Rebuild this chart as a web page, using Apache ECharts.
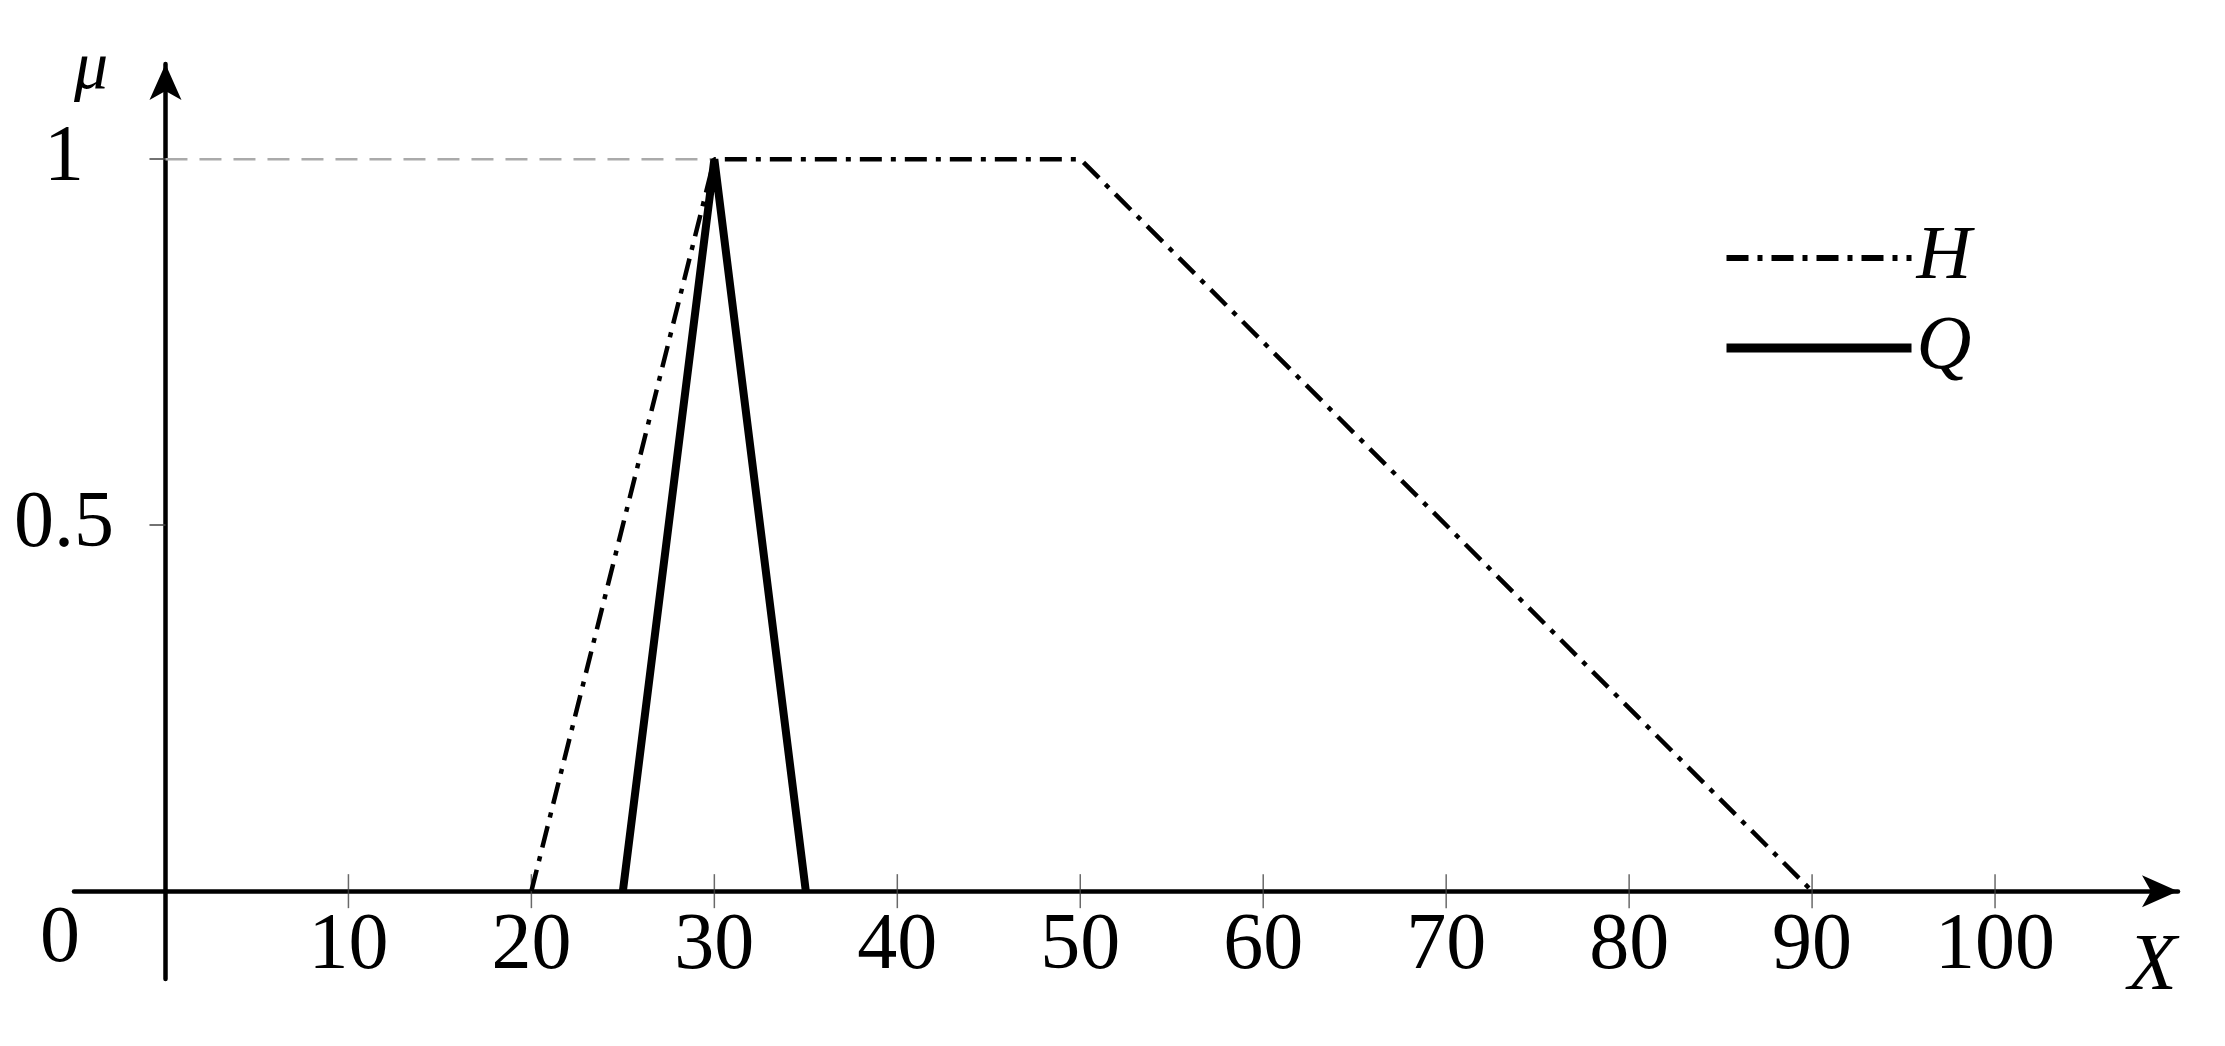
<!DOCTYPE html>
<html>
<head>
<meta charset="utf-8">
<script src="https://cdn.jsdelivr.net/npm/echarts@6/dist/echarts.min.js"></script>
<style>html,body{margin:0;padding:0;background:#fff}#chart{width:2225px;height:1046px}</style>
</head>
<body>
<div id="chart"></div>
<script>
// datos de las funciones de pertenencia
const puntosH = [[20, 0], [30, 1], [50, 1], [90, 0]];
const puntosQ = [[25, 0], [30, 1], [35, 0]];
const guiaUno = [[0, 1], [30, 1]];
const ticksX = [10, 20, 30, 40, 50, 60, 70, 80, 90, 100];
const ticksY = [0.5, 1];

const fuente = 'Liberation Serif';
const chart = echarts.init(document.getElementById('chart'));

chart.setOption({
    animation: false,
    grid: { left: 74, right: 47, top: 64, bottom: 67, outerBoundsMode: 'none', containLabel: false },
    xAxis: {
        type: 'value', min: -5, max: 110,
        splitLine: { show: false },
        axisLine: { onZero: true, lineStyle: { color: '#000', width: 4.5 }, symbol: ['none', 'arrow'], symbolSize: [24, 36] },
        axisTick: { show: false },
        axisLabel: { show: true, customValues: ticksX, margin: -72, fontFamily: fuente, fontSize: 80, color: '#000' }
    },
    yAxis: {
        type: 'value', min: -0.12, max: 1.13,
        splitLine: { show: false },
        axisLine: { onZero: true, lineStyle: { color: '#000', width: 4.5 }, symbol: ['none', 'arrow'], symbolSize: [24, 36] },
        axisTick: { show: true, length: 16, lineStyle: { color: '#444', width: 1.5 }, customValues: ticksY },
        axisLabel: { show: true, customValues: ticksY, margin: 10, align: 'center', fontFamily: fuente, fontSize: 80, color: '#000' }
    },
    legend: {
        orient: 'vertical', left: 1717, top: 215, itemWidth: 185, itemHeight: 20, itemGap: 14,
        itemStyle: { opacity: 0 },
        data: [
            { name: 'H', lineStyle: { width: 6 } },
            { name: 'Q', lineStyle: { width: 9 } }
        ],
        textStyle: { fontFamily: fuente, fontStyle: 'italic', fontSize: 76, color: '#000' }
    },
    graphic: [
        { type: 'text', left: 40, top: 900, style: { text: '0', font: '80px "Liberation Serif"', fill: '#000' } },
        { type: 'text', left: 74, top: 36, style: { text: 'μ', font: 'italic 68px "Liberation Serif"', fill: '#000' } },
        { type: 'text', left: 2128, top: 928, style: { text: 'X', font: 'italic 80px "Liberation Serif"', fill: '#000' } }
    ],
    series: [
        {
            name: 'guia', type: 'line', data: guiaUno, symbol: 'none', silent: true,
            lineStyle: { color: '#aaa', width: 2.5, type: [22, 12] }
        },
        {
            // marcas de graduacion que cruzan el eje X
            name: 'ticks', type: 'scatter', silent: true,
            data: ticksX.map(v => [v, 0]),
            symbol: 'rect', symbolSize: [1.5, 34],
            itemStyle: { color: '#444' }, z: 1
        },
        {
            name: 'H', type: 'line', data: puntosH, symbol: 'none',
            itemStyle: { color: '#000' },
            lineStyle: { color: '#000', width: 4.5, type: [22, 9, 5, 9] }
        },
        {
            name: 'Q', type: 'line', data: puntosQ, symbol: 'none',
            itemStyle: { color: '#000' },
            lineStyle: { color: '#000', width: 8 }
        }
    ]
});
</script>
</body>
</html>
